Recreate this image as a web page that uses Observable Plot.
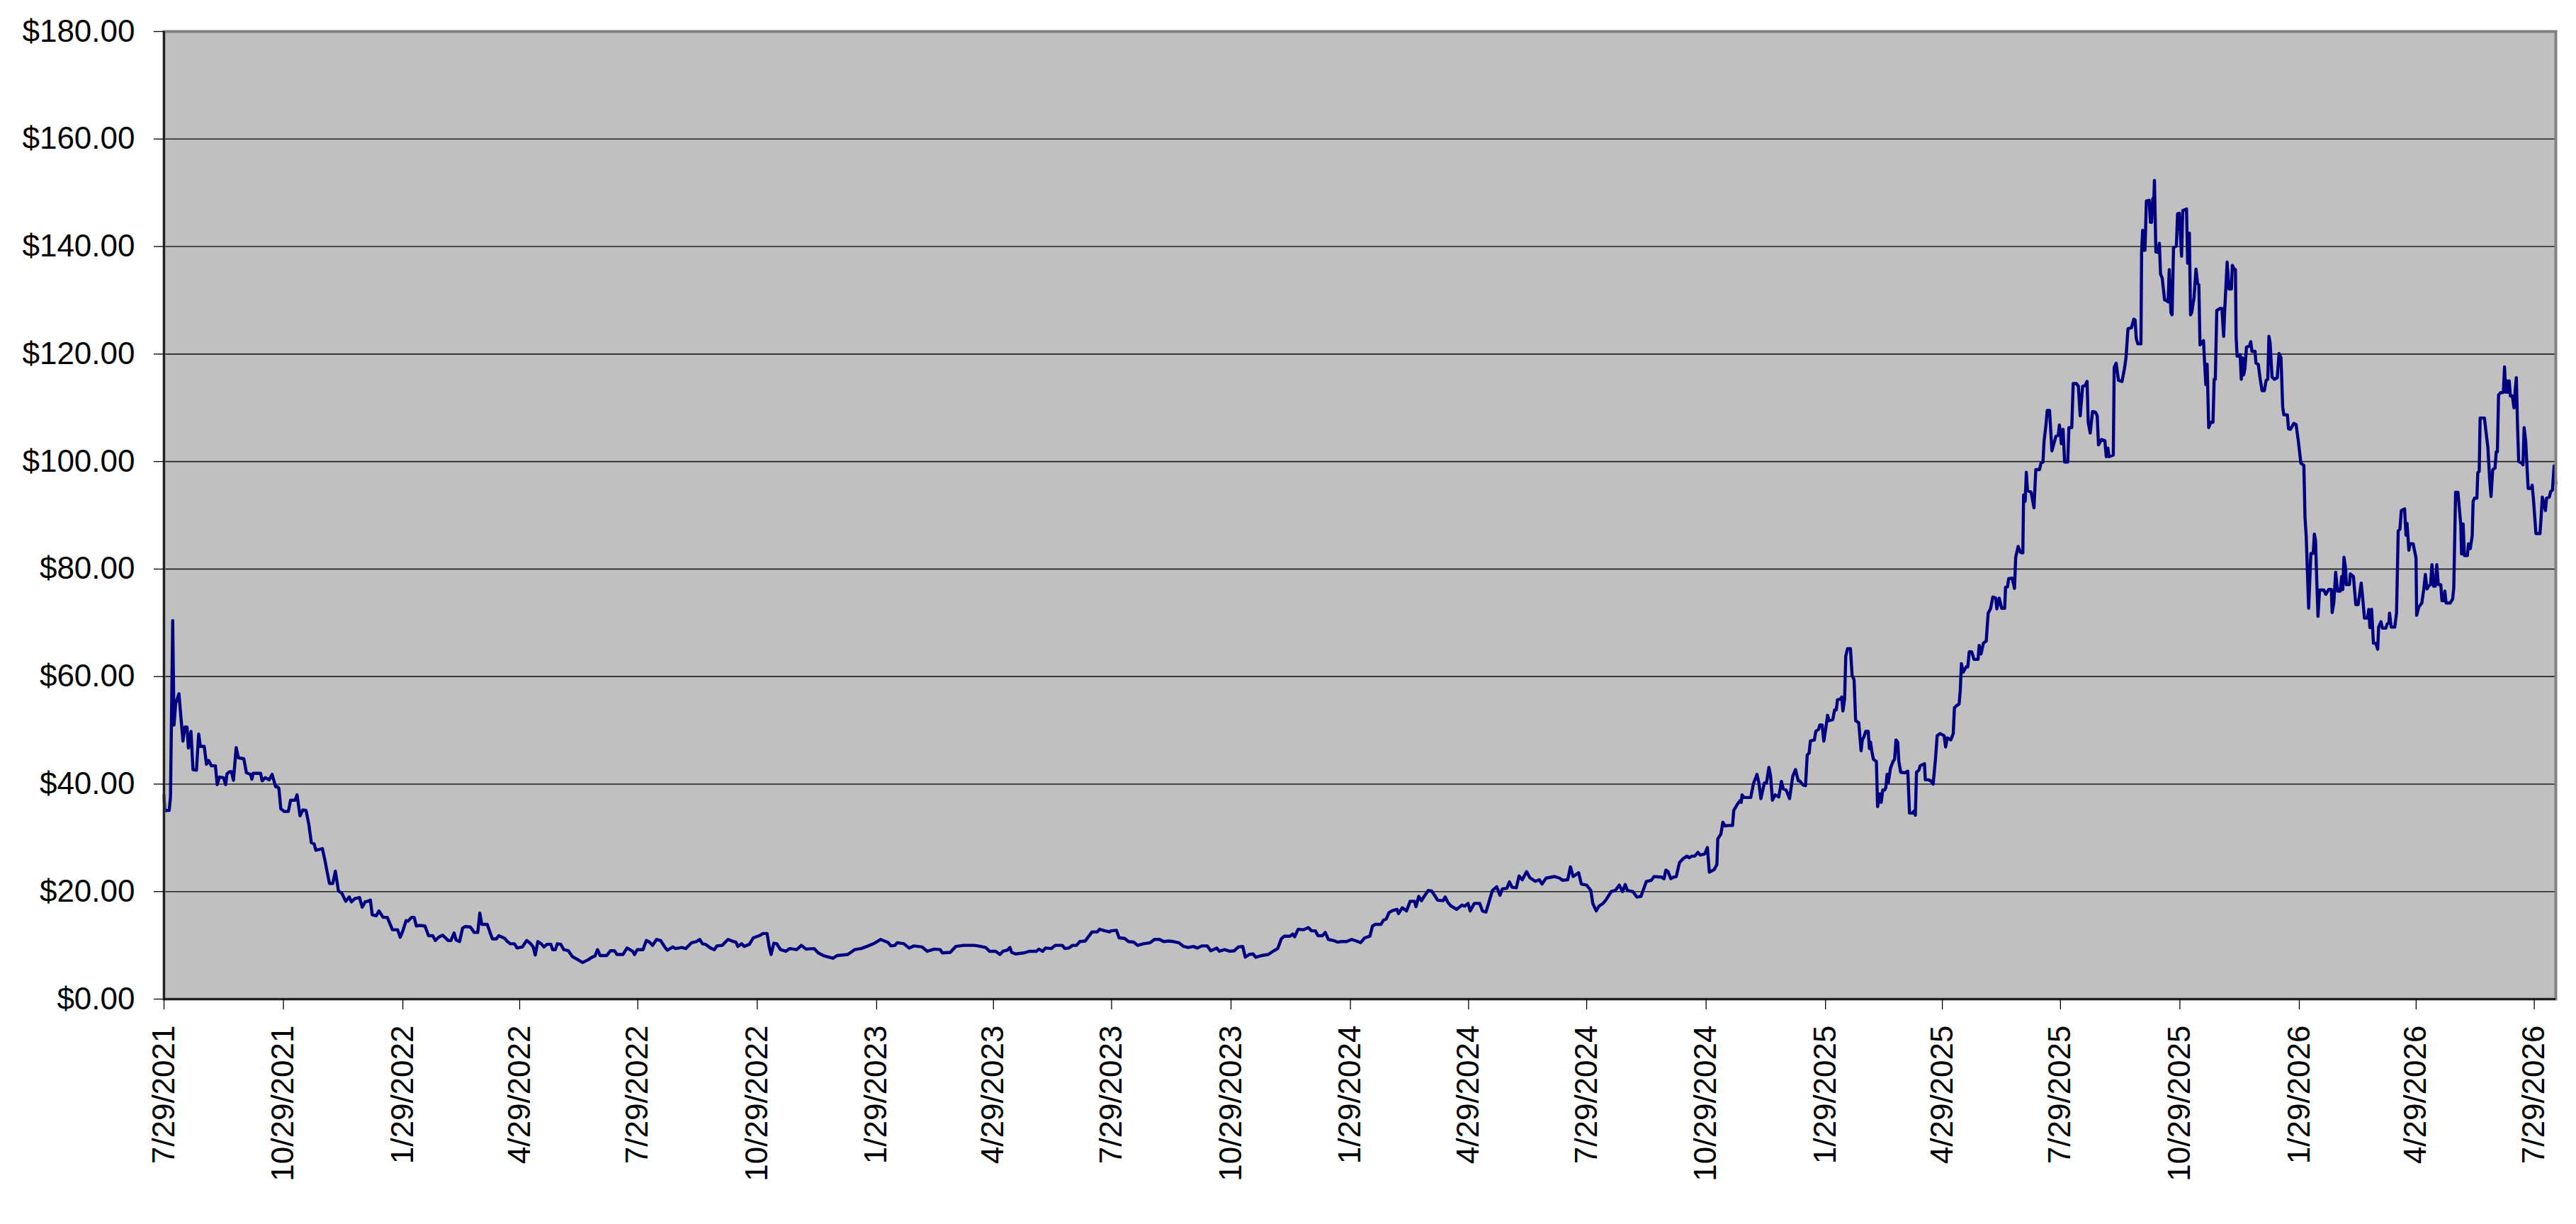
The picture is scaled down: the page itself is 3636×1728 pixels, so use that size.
<!DOCTYPE html>
<html>
<head>
<meta charset="utf-8">
<script src="https://cdn.jsdelivr.net/npm/d3@7"></script>
<script src="https://cdn.jsdelivr.net/npm/@observablehq/plot@0.6"></script>
<style>
  html, body { margin: 0; padding: 0; background: #ffffff; overflow: hidden; }
  #chart svg { display: block; }
</style>
</head>
<body>
<div id="chart"></div>
<script>
// Start date of the series; each pair is [days after startDate, price in $]
const startDate = "2021-07-29";

const series2021 = [[0,37.9],[0.6,35],[2,35.1],[4,35.1],[5,37.6],[6.7,70.4],[7.7,51],[9,55],[11.5,56.8],[14.6,48],[16,50.6],[17.7,50.6],[18.8,46.7],[20.8,49.8],[22.3,42.7],[25,42.6],[26.7,49.3],[28,47],[31,47],[32.7,43.7],[34.4,44.4],[36.5,43.4],[39.6,43.4],[41,39.9],[42.7,41.3],[45.8,41.2],[47.5,39.9],[48.5,41.9],[50.6,42.3],[52,42.3],[53.5,40.7],[55.6,46.8],[57.3,44.9],[61.5,44.7],[63.5,42.1],[66.7,41.8],[67.7,40.9],[68.7,42],[74.4,42],[75.6,40.6],[78,41.2],[81,40.8],[83.3,41.8],[86,39.5],[87.5,39.5],[88.5,39.2],[90,35.4],[92.7,34.9],[95.8,34.9],[97.5,37],[101,37],[102.5,38],[104.8,34.1],[107,35.2],[109.4,35.1],[111.5,32.6],[113.5,29.1],[115.6,28.9],[117,27.7],[122,28],[124,25.8],[125.4,24],[127.5,21.5],[130,21.5],[132,23.8],[134.4,20.1],[137,19.7],[140,18.2],[142.7,19],[144.4,18.1],[147,18.7],[150.6,18.9],[152.7,17.1],[155,18.1]];

const series2022 = [[157,18.2],[159,18.4],[160.4,15.7],[163.5,15.5],[165.6,16.4],[168.8,15.2],[172,15.2],[176,12.9],[180,12.9],[182,11.5],[184,12.7],[186.5,14.6],[188,14.5],[190.6,15.2],[192.7,15.2],[194.4,13.6],[197,13.7],[201,13.6],[203.8,11.8],[207,11.8],[209,10.9],[211.5,11.5],[214.6,11.9],[219,10.9],[221,10.9],[223.5,12.3],[225,11],[227.7,10.7],[230,13.2],[232,13.5],[236,13.4],[239,12.4],[241.7,12.4],[243.3,16],[244.8,13.9],[249,13.9],[251,12.5],[253,11.2],[256,11.2],[258,11.8],[262.5,11.3],[264.6,10.7],[266.7,10.3],[270,10.3],[272,9.5],[276,9.7],[279.4,10.9],[282.5,10.3],[284.4,9.7],[286,8.2],[288,10.7],[290.6,10.3],[292.7,9.7],[295,10.2],[298,10.2],[299.4,9.2],[301.5,9.2],[303,10.3],[305.6,10.2],[308,9.2],[311.5,9],[314.6,7.9],[317.7,7.5],[322.5,6.8],[326.6,7.3],[329.7,7.8],[332,8],[334,9.2],[336,8.1],[341,8.1],[344,9],[347,9],[349,8.3],[353.6,8.3],[356.7,9.5],[361,8.9],[362.5,8.3],[364.6,9.2],[369,9.2],[371.6,10.9],[374,10.6],[376.4,10],[379.5,11.1],[382.6,10.9],[386,9.6],[387.8,9.1],[392,9.7],[394,9.4],[399,9.6],[402,9.4],[406.5,10.5],[410,10.7],[412.7,11.1],[414.8,10.3],[417,10.2],[421,9.5],[424,9.2],[426,9.9],[430,10],[434.5,11.1],[437.6,10.8],[440.6,10.6],[442,9.8],[445,10.3],[447,9.8],[451,10.2],[454,11.4],[458.8,11.8],[461.5,12.2],[464.6,12.2],[466.2,9.8],[467.7,8.3],[469.8,10.4],[472,10.3],[475,9.2],[479,8.9],[482,9.4],[487.4,9.2],[491,10],[494.7,9.3],[500.9,9.4],[504,8.6],[508,8.1],[515.4,7.6],[518.5,8.1]];

const series2023 = [[526.8,8.3],[532,9.2],[537,9.4],[541.5,9.8],[546.6,10.3],[552,11.1],[558,10.5],[560,9.9],[563,10],[565,10.5],[570,10.3],[574,9.5],[577.7,9.9],[580.8,9.8],[584,9.7],[588,8.9],[593.5,9.3],[598,9.2],[599.5,8.6],[605.7,8.7],[610,9.8],[616,10],[624.3,10],[627,9.9],[633,9.6],[636,8.9],[640.7,8.9],[644,8.3],[646.3,8.9],[649.7,9.1],[651.7,9.6],[653,8.7],[656,8.4],[662.6,8.6],[666.8,8.9],[672,8.9],[674,9.3],[677,8.9],[679,9.5],[683.5,9.4],[686.6,10],[692,10],[694,9.4],[697,9.5],[700,10],[703,10],[705.5,10.7],[709.6,10.8],[712.8,11.8],[715,12.5],[719,12.5],[720.7,13],[725,12.7],[728.4,12.5],[729.5,12.7],[733.7,12.8],[735.8,11.4],[740,11.3],[743,10.7],[747,10.6],[750,10],[754.6,10.3],[759.8,10.5],[763,11.1],[767,11.1],[770,10.7],[774.4,10.8],[777.6,10.7],[781.7,10.5],[785.5,9.8],[789,9.6],[793,9.8],[796,9.5],[799.5,9.9],[803.7,9.9],[806.4,9],[811,9.5],[813,8.9],[817,9.2],[821,8.9],[824.6,9],[827.7,9.7],[831,9.8],[833,7.8],[836,8.3],[839,8.4],[841,7.8],[845.5,8.1],[850.7,8.3],[855,9],[858,9.4],[860.7,11.2],[863,11.7],[867.4,11.7],[869.5,12.1],[871,11.6],[873.7,13],[878,12.9],[881.6,13.3],[884,12.7]];

const series2024 = [[887,12.7],[889,11.8],[892.5,11.8],[894.6,12.4],[897,11.1],[901,10.9],[904,10.6],[907,10.7],[911,10.7],[915,11.1],[918.6,10.8],[921.8,10.5],[925,11.4],[929,11.7],[931,13.6],[933,13.9],[937.5,13.9],[939.5,14.7],[941.6,14.9],[943.7,16.1],[946.7,16.5],[949.9,16.7],[951,15.9],[954,17],[957.2,16.4],[960,18.2],[963.4,18.2],[964.5,17.2],[966.6,19.1],[968.7,18.3],[970.8,19.1],[973.9,20.2],[976.6,20.1],[979.1,19.2],[981.2,18.4],[985.4,18.3],[987,19],[989,18],[991.6,17.3],[995.8,16.7],[1000,17.5],[1002,17.3],[1004.6,17.8],[1006.3,16.4],[1009.4,17.8],[1013.6,17.8],[1015.7,16.4],[1018.4,16.2],[1020.9,18.2],[1023.4,20.2],[1026.7,20.9],[1029.2,19.3],[1031,20.5],[1034.5,20.6],[1036.5,21.8],[1038.6,20.8],[1041.8,20.7],[1043.9,22.9],[1046.4,22.2],[1049.7,23.7],[1052.2,22.6],[1056.4,21.9],[1059.5,22.2],[1061.6,21.4],[1064.7,22.5],[1071,22.8],[1075.2,22.5],[1077.3,22.1],[1081.4,22.2],[1083.5,24.6],[1085.6,22.8],[1089.8,23.5],[1091.9,21.4],[1096,21.2],[1099.2,20.2],[1100.7,17.8],[1103.4,16.4],[1105.5,17.3],[1108.6,17.8],[1110.7,18.4],[1114.9,20],[1118,20.2],[1121.1,21.2],[1123.6,20],[1125.7,21.3],[1127.4,20.2],[1131.6,20],[1134.7,19],[1137.8,19.1],[1142,21.9],[1145.8,22.1],[1147.9,22.8],[1153.5,22.7],[1155.6,22.4],[1157,24],[1158.7,23.7],[1160.8,22.4],[1162.9,22.7],[1165,22.8],[1167.5,25.4],[1170.2,26.1],[1173.3,26.6],[1175,26.3],[1177.1,26.6],[1179.2,26.6],[1181.7,27.3],[1183.4,26.8],[1186.9,27],[1189,28.2],[1190.5,23.6],[1194.2,24.1],[1196.3,25],[1197,29.8],[1199.4,30.7],[1200.9,32.9],[1202.6,32.2],[1204.7,32.3],[1208.4,32.3],[1209.3,35.1],[1212,36.2],[1214,36.9],[1215.1,36.6],[1215.7,38],[1217.2,37.5],[1222.4,37.5],[1224.5,40.1],[1227.2,41.8],[1228.7,40.2],[1230.2,37.3],[1232.9,40.2],[1234.5,40.2],[1236.4,43.1],[1237.7,41.5],[1239.1,37],[1241.2,38],[1244,37.6],[1246,40.5],[1247.5,39.1],[1249.6,38.9]];

const series2025a = [[1252.3,37.3],[1254.8,41.5],[1256.9,42.7],[1259,40.6],[1260.1,40.6],[1262.8,39.8],[1264.6,39.7],[1265.9,45.4],[1267.4,45.8],[1268.3,48],[1271.4,48.2],[1272.5,49.8],[1274.7,50.2],[1275.6,51],[1277.4,51],[1278.7,48],[1280.1,50.2],[1281.6,52.8],[1282.8,51.8],[1285.6,52],[1287,53.8],[1288.3,53.8],[1289.2,55.7],[1291.4,55.8],[1292.5,56.2],[1293.4,53.6],[1294.7,55.8],[1295.6,63.8],[1297,65.2],[1299.2,65.2],[1300.5,60.2],[1302,59.4],[1303.2,51.8],[1305.6,51.4],[1307.4,46.2],[1308.3,48.2],[1309.6,48.8],[1311,49.8],[1312.9,49.8],[1313.8,46.6],[1314.7,47.8],[1315.6,46.2],[1316.9,44.6],[1319.2,44.2],[1320.1,35.8],[1322,38.2],[1322.9,36.6],[1324.1,38.9],[1325.6,38.9],[1326.5,39.4],[1327.4,41.8],[1328.3,40.2],[1330.1,43],[1332,44.2],[1333.2,44.6],[1334.3,48.2],[1335.6,47.8],[1336.5,44.2],[1337.9,42.2],[1341.1,42.1],[1343.4,42.4],[1344.7,34.6],[1347.1,34.6],[1348.3,35],[1349.2,34.2],[1350.1,42.2],[1352,42.6],[1352.9,43.4],[1356.2,43.8],[1356.9,40.8],[1359.2,40.8],[1361.1,40.6],[1362.9,40],[1364.7,44.6],[1366,49],[1368.3,49.4],[1371.4,49],[1372.5,46.9],[1373.8,48.6],[1376.5,48.2],[1378.4,49.4],[1379.3,54.2],[1381.1,54.6],[1382.9,54.9],[1383.8,57.4],[1384.7,62.4],[1386,60.8],[1388.4,61.8],[1389.6,61.8],[1390.7,64.6],[1392.6,64.6],[1394.4,63.2],[1397.5,63.2],[1398.4,65.8],[1399.8,64.2],[1401.6,66.2],[1403.8,66.6],[1405.3,71.8],[1407.1,72.6],[1408.9,74.8],[1411.1,74.6],[1412,72.6],[1413.8,74.6],[1415.7,72.7],[1418,72.7],[1418.7,76.6],[1420.2,76.7],[1421.1,78.2],[1423.8,78.3],[1425.6,76.4],[1426.5,82.2],[1428.4,84.2],[1430.2,83.1],[1432,83]];

const series2025b = [[1432.6,93.8],[1433.8,92.6],[1434.7,98],[1435.6,94.6],[1438.4,94.3],[1440.6,91.4],[1442,98.5],[1444.8,98.5],[1446,99.7],[1447.5,99.9],[1448.4,103.9],[1449.7,106.5],[1450.8,109.5],[1452.6,109.5],[1454.4,102],[1457.5,104.7],[1459.3,104.9],[1460.2,106.8],[1461.7,103.3],[1463,106],[1464.2,99.9],[1466.6,99.9],[1467.5,106.3],[1469.7,106.3],[1470.8,114.5],[1473.3,114.5],[1474.8,114],[1476.2,108.5],[1478.1,114],[1479.9,114.1],[1481.5,114.9],[1482.4,107.3],[1483.9,105.3],[1485.7,109.3],[1487.9,109.2],[1489.3,108.5],[1490.3,103.1],[1492.6,104.1],[1495.2,103.9],[1496.3,100.9],[1497.5,102.5],[1498.4,100.9],[1501.7,101.2],[1502.4,117.5],[1503.9,118.3],[1505.7,115.1],[1508.4,114.9],[1510.3,117.3],[1511.5,119.3],[1513,124.7],[1515.7,124.9],[1517.5,126.5],[1518.5,126.3],[1519.4,122.9],[1520.6,121.9],[1523,121.9],[1523.5,138.9],[1524.3,143],[1525.4,139.3],[1526.1,139.3],[1527.2,148.5],[1529.4,148.6],[1530.3,144.5],[1531.2,144.5],[1532.1,148.9],[1532.6,146.5],[1533.4,152.3],[1534.5,139],[1536.3,138.9],[1537.2,140.6],[1538.1,134.9],[1539.4,134.1],[1541.2,130.1],[1543,129.9],[1543.9,129.7],[1544.8,135.7],[1546.1,127.7],[1547,127.3],[1548.1,139.8],[1550.3,140.1],[1551.2,146.1],[1552.5,146.2],[1554.3,138.2],[1555.2,146.7],[1558.1,147],[1559,136.9],[1560.3,142.5],[1561.2,127.3],[1562.1,127.7],[1563.9,130.5],[1565.4,135.8],[1566.7,133.1],[1567.6,132.9],[1568.5,121.7],[1571.2,122.5],[1572.1,118.1],[1573,114.3],[1574,118.1],[1575.2,106.3],[1576.7,107.3],[1578.5,107.3],[1579.4,115.3],[1580.3,115.3],[1581.4,128.1],[1584,128.5],[1585.4,128.5],[1586.7,123.3],[1587.6,128.5],[1589.4,137.1],[1590.9,132.1],[1592.7,132.1],[1593.4,136.5],[1594.9,135.8],[1595.8,135.7],[1596.3,123.3],[1597.1,119.6],[1598.5,119.6],[1599.4,119.9],[1600.3,115.3],[1601.2,119.3],[1602.1,116.1],[1603.1,117.3],[1604.3,121.3],[1606.7,121.5],[1607.6,122.3],[1608.5,120.5],[1610.9,120.5],[1611.6,118.3],[1613.4,118.1],[1614.9,115.3],[1616.3,113.2]];

const series2026 = [[1618.1,113.2],[1619.4,115.1],[1620.7,115.3],[1621.6,123.3],[1622.5,122.1],[1624,115.7],[1625.8,115.3],[1628,115.6],[1629.4,120.1],[1630.9,119.3],[1632.2,110.1],[1633.1,108.7],[1635.8,108.7],[1636.7,106.1],[1638.1,106],[1639.4,106.5],[1640.7,107.1],[1642.5,106.9],[1644.3,103.7],[1646.2,99.7],[1648.5,99.3],[1649.4,89.5],[1650.3,86.2],[1652.2,72.7],[1653.9,82.9],[1655.7,82.9],[1656.6,86.5],[1657.5,85.3],[1658.5,77.4],[1659.4,71.2],[1660.6,76.1],[1663.9,76.1],[1665.4,75.3],[1667.6,76.2],[1669.7,76.2],[1670.3,71.9],[1671.6,73.8],[1673,79.4],[1674.5,75.9],[1676.6,75.9],[1677.6,78.6],[1678.5,76.2],[1679.4,82.2],[1680.7,80],[1681.2,77.1],[1683.6,77.1],[1684.3,79.1],[1686.7,78.6],[1688.5,73.4],[1690.3,73.4],[1692.7,77.4],[1693.9,74.4],[1695.2,70.9],[1697.6,70.9],[1698.5,72.5],[1699.4,69.1],[1700.7,72.5],[1702.1,66.2],[1703.9,66.2],[1705.4,65.1],[1706.1,69.2],[1707.9,70.2],[1709,69],[1711.6,69],[1712.7,69.8],[1714,70],[1714.5,71.8],[1715.8,69.2],[1718.5,69.2],[1719.9,71.8],[1721.2,87.1],[1722.5,87.4],[1723.6,90.9],[1726.1,91.2],[1727.2,86.3],[1728,88.5],[1729.4,83.5],[1730.3,84.7],[1732.7,84.7],[1734.9,82.1],[1735.4,71.4],[1737,72.9],[1739.4,73.7],[1740.9,76.3],[1742.1,79],[1743.4,76.3],[1744.9,76.9],[1746.1,77.1],[1747.2,80.8],[1748.5,76.8],[1749.8,76.8],[1750.9,80.8],[1752.1,77.1],[1754,77.1],[1754.9,74.1],[1756.3,74.1],[1757.1,75.9],[1758.1,73.7],[1761.2,73.7],[1763.1,74.4],[1764,76.5],[1765.4,94.3],[1767.2,94.3],[1769.4,88.2],[1770,82.8],[1771.2,88.4],[1772.2,82.5],[1774.5,82.5],[1775.3,84.7],[1776.7,83.8],[1778.2,86.2],[1778.9,92.6],[1780,93.2],[1781.8,93.2],[1782.5,97.9],[1783.6,98.2],[1784.3,108.1],[1787.6,108.1],[1789.4,104.4],[1790.3,102.6],[1791.6,96.8],[1792.7,93.5],[1794,98.5],[1795.8,98.8],[1796.7,101.8],[1797.6,101.8],[1798.5,112.4],[1800,112.8],[1802.2,112.9],[1803.1,117.6],[1804,112.9],[1804.9,115],[1805.8,112.9],[1806.7,115],[1807.6,112.2],[1809.1,112.2],[1810.4,110],[1811.3,113.2],[1812.2,115.6],[1813.1,106.8],[1814,100],[1816.4,99.7],[1817.3,99.4],[1818.2,106.3],[1819.4,103.8],[1821.3,95],[1823.6,95],[1824.4,95.6],[1825.5,92.6],[1827.3,86.6],[1830.4,86.6],[1831.3,89.7],[1832.2,93.4],[1833.5,92.1],[1834.6,90.9],[1835.5,93.2],[1837.6,93.4],[1838.6,94.4],[1840,94.7],[1841.3,99.2],[1842.6,95.9]];

// Axis tick labels (as printed)
const xTickLabels = ["7/29/2021","10/29/2021","1/29/2022","4/29/2022","7/29/2022","10/29/2022","1/29/2023","4/29/2023","7/29/2023","10/29/2023","1/29/2024","4/29/2024","7/29/2024","10/29/2024","1/29/2025","4/29/2025","7/29/2025","10/29/2025","1/29/2026","4/29/2026","7/29/2026"];
const yTickValues = [0, 20, 40, 60, 80, 100, 120, 140, 160, 180];

// ---- build table ----
const t0 = Date.parse(startDate + "T00:00:00Z");
const dayMs = 86400000;
const allPairs = [].concat(series2021, series2022, series2023, series2024, series2025a, series2025b, series2026);
const data = allPairs.map(([d, v]) => ({date: new Date(t0 + d * dayMs), price: v}));
const parseMDY = (s) => { const [m, d, y] = s.split("/").map(Number); return new Date(Date.UTC(y, m - 1, d)); };
const xTicks = xTickLabels.map(parseMDY);
const labelOf = new Map(xTicks.map((d, i) => [+d, xTickLabels[i]]));
const xDomain = d3.extent(data, d => d.date);
const yMax = yTickValues[yTickValues.length - 1];

const chart = Plot.plot({
  width: 3636,
  height: 1728,
  marginLeft: 231,
  marginRight: 29,
  marginTop: 44,
  marginBottom: 318,
  style: {background: "#ffffff", fontFamily: "'Liberation Sans', Arial, sans-serif", fontSize: "44px", color: "#000000"},
  x: {type: "utc", domain: xDomain},
  y: {domain: [0, yMax]},
  marks: [
    Plot.frame({fill: "#C0C0C0", stroke: null}),
    Plot.ruleY(yTickValues.slice(1, -1), {stroke: "#222222", strokeWidth: 1.6}),
    Plot.line(data, {x: "date", y: "price", stroke: "#000080", strokeWidth: 4.4, strokeLinejoin: "round"}),
    Plot.frame({stroke: "#808080", strokeWidth: 4}),
    Plot.ruleX([xDomain[0]], {stroke: "#111111", strokeWidth: 2.5}),
    Plot.ruleY([0], {stroke: "#111111", strokeWidth: 2.5}),
    Plot.axisY({ticks: yTickValues, tickFormat: d => "$" + d.toFixed(2), tickSize: 14, tickPadding: 27, label: null, strokeWidth: 1.3}),
    Plot.axisX({ticks: xTicks, tickFormat: d => labelOf.get(+d), tickRotate: -90, tickSize: 15, tickPadding: 22, label: null, strokeWidth: 1.3})
  ]
});
document.getElementById("chart").appendChild(chart);
</script>
</body>
</html>
